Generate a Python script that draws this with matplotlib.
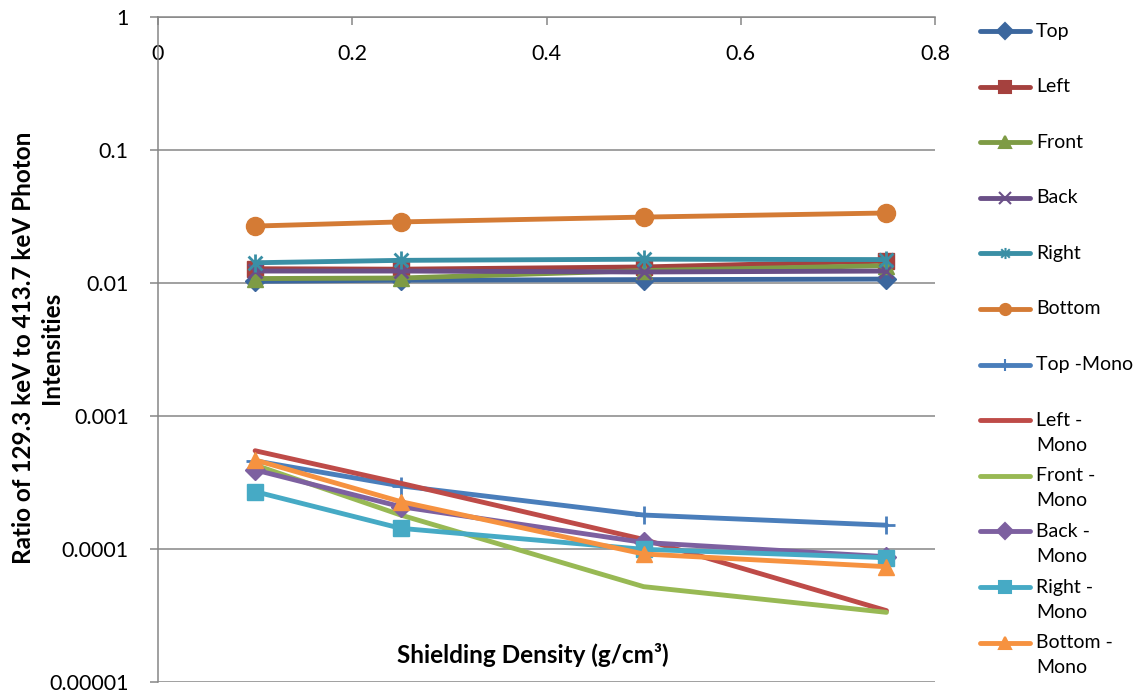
import matplotlib
matplotlib.use('Agg')
import matplotlib.pyplot as plt
from matplotlib.path import Path

plt.rcParams['font.family'] = ['Lato', 'DejaVu Sans']

# shielding density (g/cm3)
x = [0.1, 0.25, 0.5, 0.75]

top = [0.0103, 0.0105, 0.0106, 0.0107]
left = [0.0128, 0.0127, 0.0132, 0.0146]
front = [0.0108, 0.0109, 0.0124, 0.0135]
back = [0.0123, 0.0123, 0.0121, 0.0123]
right = [0.0142, 0.0148, 0.0151, 0.0150]
bottom = [0.0268, 0.0288, 0.0313, 0.0336]

top_mono = [0.00046, 0.000298, 0.00018, 0.000151]
left_mono = [0.000548, 0.000312, 0.000118, 0.0000344]
front_mono = [0.000428, 0.00018, 0.0000521, 0.0000334]
back_mono = [0.000393, 0.000208, 0.000112, 0.0000875]
right_mono = [0.00027, 0.000143, 0.0000994, 0.000086]
bottom_mono = [0.000467, 0.000227, 0.0000917, 0.0000736]

names = ['Top', 'Left', 'Front', 'Back', 'Right', 'Bottom',
         'Top -Mono', 'Left -\nMono', 'Front -\nMono', 'Back -\nMono',
         'Right -\nMono', 'Bottom -\nMono']
series = [top, left, front, back, right, bottom,
          top_mono, left_mono, front_mono, back_mono, right_mono, bottom_mono]

yticks = [1, 0.1, 0.01, 0.001, 0.0001, 0.00001]
ylabels = ['1', '0.1', '0.01', '0.001', '0.0001', '0.00001']
xticks = [0, 0.2, 0.4, 0.6, 0.8]
xlabels = ['0', '0.2', '0.4', '0.6', '0.8']

# excel asterisk: x with a vertical bar
star = Path([(-1, -1), (1, 1), (-1, 1), (1, -1), (0, -1.3), (0, 1.3)],
            [Path.MOVETO, Path.LINETO] * 3)

colors = ['#3C679E', '#A5413E', '#7E9B45', '#6A4F87', '#3A8FA5', '#D47B35',
          '#4A7EBB', '#BE4B48', '#98B954', '#7D60A0', '#46AAC5', '#F69240']
markers = ['D', 's', '^', 'x', star, 'o', '+', None, None, 'D', 's', '^']
sizes = [10, 12, 12, 10, 13, 13, 13, 0, 0, 10, 12, 12]

fig = plt.figure(figsize=(11.42, 6.96), dpi=100)
ax = fig.add_axes([158 / 1142, 14 / 696, 777 / 1142, 665 / 696])

for s, c, m, ms in zip(series, colors, markers, sizes):
    filled = m not in ('x', '+', star)
    ax.plot(x, s, color=c, lw=3.5, marker=m, ms=ms,
            mfc=c if filled else 'none', mec=c, mew=2 if not filled else 1,
            solid_capstyle='round')

ax.set_yscale('log')
ax.set_ylim(0.00001, 1)
ax.set_xlim(0, 0.8)
ax.set_yticks(yticks, ylabels)
ax.minorticks_off()
ax.set_xticks(xticks, xlabels)

grey = '#868686'
ax.yaxis.grid(True, color=grey, lw=1.1)
ax.set_axisbelow(True)
for sp in ['right', 'bottom']:
    ax.spines[sp].set_visible(False)
for sp in ['left', 'top']:
    ax.spines[sp].set_color(grey)
    ax.spines[sp].set_linewidth(1.1)

ax.tick_params(axis='y', direction='out', length=6, width=1.1, color=grey,
               labelsize=15.5, pad=15)
ax.tick_params(axis='x', top=True, bottom=False, labeltop=True,
               labelbottom=False, direction='in', length=6, width=1.1,
               color=grey, labelsize=15.5, pad=-34)

ax.text(0.483, 0.04, 'Shielding Density (g/cm³)', transform=ax.transAxes,
        ha='center', va='center', fontsize=17.5, fontweight='bold')
fig.text(0.033, 0.5, 'Ratio of 129.3 keV to 413.7 keV Photon\nIntensities',
         rotation=90, ha='center', va='center', fontsize=17.5,
         fontweight='bold', linespacing=1.25, multialignment='center')

# legend drawn by hand so every entry keeps the same slot height
lax = fig.add_axes([0, 0, 1, 1])
lax.set_xlim(0, 1142)
lax.set_ylim(696, 0)
lax.axis('off')
for i, (n, c, m) in enumerate(zip(names, colors, markers)):
    yy = 31 + 55.6 * i
    lax.plot([980, 1030], [yy, yy], color=c, lw=3.5, solid_capstyle='round')
    if m is not None:
        filled = m not in ('x', '+', star)
        lax.plot([1005], [yy], color=c, marker=m, ms=8,
                 mfc=c if filled else 'none', mec=c, mew=1.5)
    for j, part in enumerate(n.split('\n')):
        lax.text(1036, yy + 25 * j, part, ha='left', va='center', fontsize=14)

fig.savefig('out.png', dpi=100)
